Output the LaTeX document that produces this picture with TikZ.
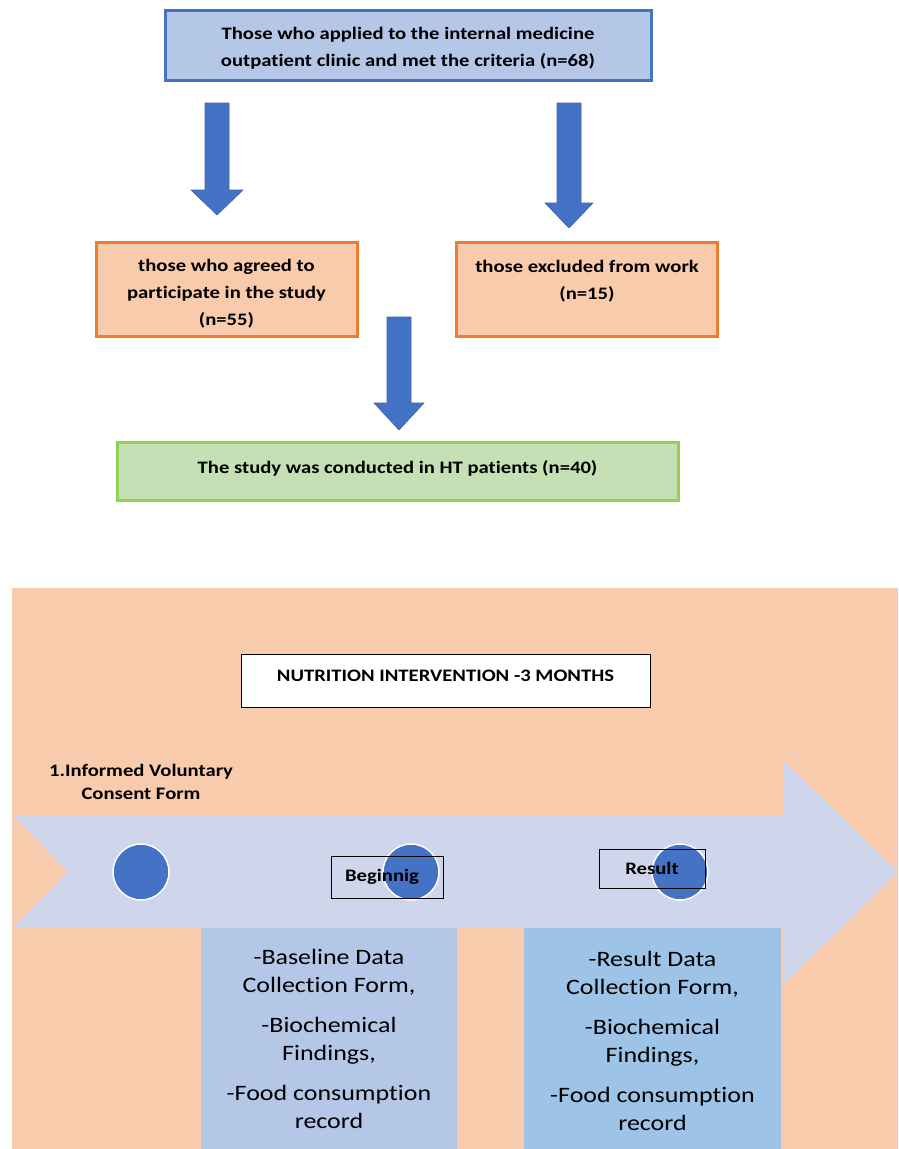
\documentclass[tikz,border=0pt]{standalone}
\usepackage{fontspec}
\setmainfont{Carlito}[FakeStretch=1.18,Ligatures=NoCommon]
\definecolor{arrowblue}{HTML}{4472C4}
\definecolor{arrowedge}{HTML}{3A64B0}
\definecolor{boxblue}{HTML}{B4C7E7}
\definecolor{boxorange}{HTML}{F8CBAD}
\definecolor{lineorange}{HTML}{ED7D31}
\definecolor{boxgreen}{HTML}{C5E0B4}
\definecolor{linegreen}{HTML}{92D050}
\definecolor{chevron}{HTML}{CFD5EA}
\definecolor{formblue}{HTML}{9DC3E6}
\tikzset{
  boldtxt/.style={font=\fontsize{17.5}{27}\selectfont\bfseries,align=center},
  formtxt/.style={font=\fontsize{22}{28}\selectfont,align=center},
  flowbox/.style={boldtxt,draw,line width=3pt,inner sep=0pt},
  blkarrow/.style={fill=arrowblue,draw=arrowedge,line width=.6pt},
  dot/.style={circle,fill=arrowblue,draw=white,line width=1.5pt,minimum size=56pt,inner sep=0pt},
  tag/.style={boldtxt,draw,line width=.8pt,inner sep=0pt}
}
\begin{document}
\begin{tikzpicture}[x=1pt,y=-1pt]
\useasboundingbox (0,0) rectangle (898,1149);
% flow chart
\node[flowbox,draw=arrowblue,fill=boxblue,minimum width=486pt,minimum height=70pt] (applied) at (408,45)
  {\rule{0pt}{19pt}Those who applied to the internal medicine\\outpatient clinic and met the criteria (n=68)};
\node[flowbox,draw=lineorange,fill=boxorange,minimum width=261pt,minimum height=94pt] (agreed) at (226.5,289)
  {\rule{0pt}{21pt}those who agreed to\\participate in the study\\(n=55)};
\node[flowbox,draw=lineorange,fill=boxorange,minimum width=261pt,minimum height=94pt] (excluded) at (587,289)
  {\rule{0pt}{21pt}those excluded from work\\(n=15)\\\mbox{}};
\node[flowbox,draw=linegreen,fill=boxgreen,minimum width=561pt,minimum height=58pt] (conducted) at (397.5,471)
  {The study was conducted in HT patients (n=40)\rule[-8pt]{0pt}{8pt}};
\foreach \cx/\ytop/\yneck/\ytip/\hw in {217/103/190/215/26,569/103/203/228/24,399/317/403/430/25}
  \draw[blkarrow] (\cx-12,\ytop) -- (\cx+12,\ytop) -- (\cx+12,\yneck) -- (\cx+\hw,\yneck)
    -- (\cx,\ytip) -- (\cx-\hw,\yneck) -- (\cx-12,\yneck) -- cycle;
% timeline
\fill[boxorange] (12,588) rectangle (898,1149);
\node[tag,fill=white,minimum width=409pt,minimum height=53pt] (months) at (445.5,680.5)
  {NUTRITION INTERVENTION -3 MONTHS\rule[-10pt]{0pt}{10pt}};
\node[boldtxt,font=\fontsize{17.5}{23}\selectfont\bfseries] (consent) at (141,781.5)
  {1.Informed Voluntary\\Consent Form};
\fill[chevron] (12,815) -- (783,815) -- (783,760) -- (898,872) -- (783,985) -- (783,928)
  -- (12,928) -- (68,872) -- cycle;
\foreach \cx/\name in {141/start,411/begin,680/end}
  \node[dot] (\name) at (\cx,872) {};
\node[tag,minimum width=112pt,minimum height=42pt] (beginnig) at (387,877) {Beginnig\hspace{10pt}};
\node[tag,minimum width=106pt,minimum height=39pt] (result) at (652,868.5) {Result};
\node[formtxt,fill=boxblue,minimum width=256pt,minimum height=221pt,anchor=north] (baseline) at (329,928)
  {-Baseline Data\\Collection Form,\\[12pt]-Biochemical\\Findings,\\[12pt]-Food consumption\\record};
\node[formtxt,fill=formblue,minimum width=257pt,minimum height=221pt,anchor=north] (resultform) at (652.5,928)
  {\rule{0pt}{19pt}-Result Data\\Collection Form,\\[12pt]-Biochemical\\Findings,\\[12pt]-Food consumption\\record};
\end{tikzpicture}
\end{document}
